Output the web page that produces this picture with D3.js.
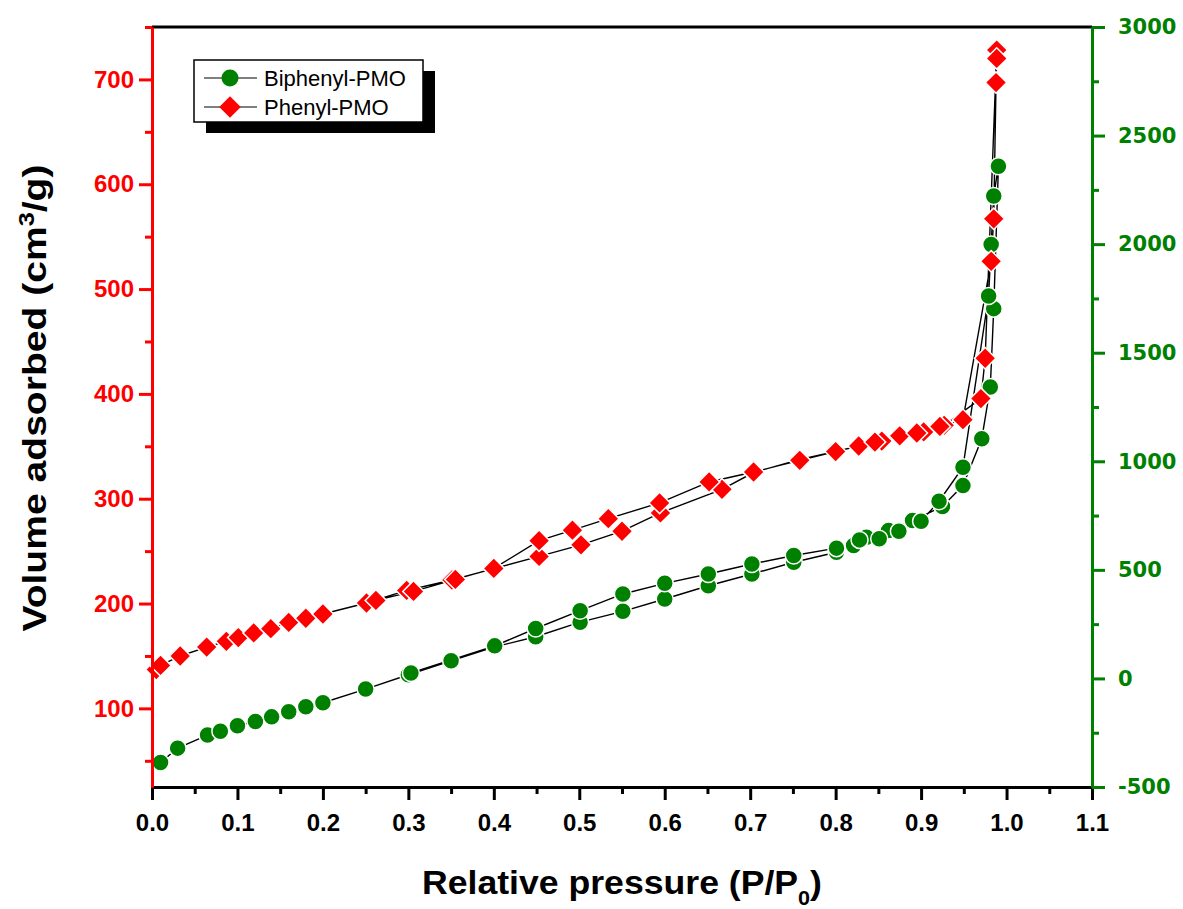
<!DOCTYPE html>
<html>
<head>
<meta charset="utf-8">
<script src="https://cdn.jsdelivr.net/npm/d3@7"></script>
<style>
  body { margin: 0; background: #fff; }
  svg { display: block; }
</style>
</head>
<body>
<div id="chart"></div>
<script>
// Phenyl-PMO (left axis, cm3/g) - adsorption then desorption branch
const phenylAdsP = [0.005, 0.01, 0.033, 0.064, 0.087, 0.101, 0.119, 0.139, 0.160, 0.180, 0.200, 0.251, 0.298, 0.351, 0.400, 0.453, 0.502, 0.550, 0.595, 0.667, 0.704, 0.757, 0.800, 0.827, 0.854, 0.875, 0.903, 0.927, 0.970, 0.975, 0.9885];
const phenylAdsV = [137, 141, 150, 158.5, 164, 167.5, 172, 176, 182, 186, 190, 200.5, 212.5, 222.5, 233.3, 245, 256, 269, 286.5, 309, 325, 337.3, 345, 350.3, 355, 360, 363.7, 370, 395.5, 434, 728];
const phenylDesP = [0.9885, 0.9877, 0.985, 0.982, 0.949, 0.922, 0.895, 0.846, 0.758, 0.704, 0.652, 0.594, 0.534, 0.492, 0.453, 0.400, 0.355, 0.306, 0.262];
const phenylDesV = [720, 697, 567, 526.5, 375.4, 369, 362.7, 354, 336.6, 325.5, 316, 296, 281, 270, 260, 233.5, 223, 211.6, 203];

// Biphenyl-PMO (right axis)
const biphenylAdsP = [0.010, 0.030, 0.065, 0.080, 0.100, 0.121, 0.140, 0.160, 0.180, 0.200, 0.250, 0.300, 0.350, 0.401, 0.449, 0.501, 0.551, 0.600, 0.651, 0.702, 0.751, 0.801, 0.821, 0.836, 0.862, 0.890, 0.925, 0.949, 0.971, 0.981, 0.985, 0.9905];
const biphenylAdsV = [-387, -321, -261, -243, -218, -198, -177, -153.5, -130.5, -112, -49, 17, 81.6, 145, 192, 259, 309, 366, 427, 481, 535, 581, 612, 650, 681, 727, 792, 888, 1104, 1342, 1703, 2359];
const biphenylDesP = [0.985, 0.982, 0.979, 0.949, 0.921, 0.900, 0.874, 0.851, 0.828, 0.801, 0.751, 0.702, 0.651, 0.600, 0.551, 0.501, 0.449, 0.401, 0.303];
const biphenylDesV = [2222, 1998, 1761, 973, 816, 724, 678, 643, 638, 600, 566, 527, 481, 438, 389, 312, 230, 150, 25];

const xTicks = [0, 0.1, 0.2, 0.3, 0.4, 0.5, 0.6, 0.7, 0.8, 0.9, 1.0, 1.1];
const leftTicks = [100, 200, 300, 400, 500, 600, 700];
const rightTicks = [-500, 0, 500, 1000, 1500, 2000, 2500, 3000];

const width = 1183, height = 909;
const plot = { left: 152, right: 1092, top: 27, bottom: 787 };
const RED = "#ff0000", GREEN = "#008000";

const svg = d3.select("#chart").append("svg")
  .attr("width", width).attr("height", height);

const x = d3.scaleLinear().domain([0, 1.1]).range([plot.left, plot.right]);
const yL = d3.scaleLinear().domain([25, 750]).range([plot.bottom, plot.top]);
const yR = d3.scaleLinear().domain([-500, 3000]).range([plot.bottom, plot.top]);

const toPts = (ps, vs) => ps.map((p, i) => ({ p, v: vs[i] }));
const phenyl = toPts(phenylAdsP, phenylAdsV).concat(toPts(phenylDesP, phenylDesV));
const biphenyl = toPts(biphenylAdsP, biphenylAdsV).concat(toPts(biphenylDesP, biphenylDesV));

// connecting lines
svg.append("path")
  .datum(biphenyl)
  .attr("fill", "none").attr("stroke", "#000").attr("stroke-width", 1.4)
  .attr("d", d3.line().x(d => x(d.p)).y(d => yR(d.v)));
svg.append("path")
  .datum(phenyl)
  .attr("fill", "none").attr("stroke", "#000").attr("stroke-width", 1.4)
  .attr("d", d3.line().x(d => x(d.p)).y(d => yL(d.v)));

// markers
svg.append("g").selectAll("circle")
  .data(biphenyl).enter().append("circle")
  .attr("cx", d => x(d.p)).attr("cy", d => yR(d.v))
  .attr("r", 8.5)
  .attr("fill", GREEN).attr("stroke", "#fff").attr("stroke-width", 1.5);

const diamond = d3.symbol().type(d3.symbolSquare).size(230);
svg.append("g").selectAll("path")
  .data(phenyl).enter().append("path")
  .attr("d", diamond)
  .attr("transform", d => `translate(${x(d.p)},${yL(d.v)}) rotate(45)`)
  .attr("fill", RED).attr("stroke", "#fff").attr("stroke-width", 1.5);

// axes
function styleAxis(g, color) {
  g.selectAll("path.domain").attr("stroke", color).attr("stroke-width", 3);
  g.selectAll(".tick line").attr("stroke", color).attr("stroke-width", 3);
}

// top frame line
svg.append("line")
  .attr("x1", plot.left).attr("x2", plot.right)
  .attr("y1", plot.top).attr("y2", plot.top)
  .attr("stroke", "#000").attr("stroke-width", 3);

// bottom axis
const xMinor = d3.range(0.05, 1.1, 0.1);
const gxMinor = svg.append("g").attr("transform", `translate(0,${plot.bottom})`)
  .call(d3.axisBottom(x).tickValues(xMinor).tickSize(7).tickSizeOuter(0).tickFormat(""));
styleAxis(gxMinor, "#000");
const gx = svg.append("g").attr("transform", `translate(0,${plot.bottom})`)
  .call(d3.axisBottom(x).tickValues(xTicks).tickSize(13).tickSizeOuter(0).tickFormat(d3.format(".1f")));
styleAxis(gx, "#000");
gx.selectAll(".tick text")
  .attr("y", 27)
  .style("font-family", "'Liberation Sans', Arial, sans-serif")
  .style("font-weight", "bold").style("font-size", "24px").attr("fill", "#000");

// left axis
const leftMinor = d3.range(50, 751, 100);
const gyLMinor = svg.append("g").attr("transform", `translate(${plot.left},0)`)
  .call(d3.axisLeft(yL).tickValues(leftMinor).tickSize(7).tickSizeOuter(0).tickFormat(""));
styleAxis(gyLMinor, RED);
const gyL = svg.append("g").attr("transform", `translate(${plot.left},0)`)
  .call(d3.axisLeft(yL).tickValues(leftTicks).tickSize(13).tickSizeOuter(0).tickFormat(d => String(d)));
styleAxis(gyL, RED);
gyL.selectAll(".tick text")
  .attr("x", -18)
  .style("font-family", "'Liberation Sans', Arial, sans-serif")
  .style("font-weight", "bold").style("font-size", "24px").attr("fill", RED);

// right axis
const rightMinor = d3.range(-250, 3000, 500);
const gyRMinor = svg.append("g").attr("transform", `translate(${plot.right},0)`)
  .call(d3.axisRight(yR).tickValues(rightMinor).tickSize(7).tickSizeOuter(0).tickFormat(""));
styleAxis(gyRMinor, GREEN);
const gyR = svg.append("g").attr("transform", `translate(${plot.right},0)`)
  .call(d3.axisRight(yR).tickValues(rightTicks).tickSize(13).tickSizeOuter(0).tickFormat(d => String(d)));
styleAxis(gyR, GREEN);
gyR.selectAll(".tick text")
  .attr("x", 26)
  .style("font-family", "'DejaVu Sans', Verdana, sans-serif")
  .style("font-weight", "bold").style("font-size", "21px").attr("fill", GREEN);

// axis titles
const yTitle = svg.append("text")
  .attr("transform", `translate(46,398) rotate(-90)`)
  .attr("text-anchor", "middle")
  .attr("textLength", 467).attr("lengthAdjust", "spacingAndGlyphs")
  .style("font-family", "'Liberation Sans', Arial, sans-serif")
  .style("font-weight", "bold").style("font-size", "34px");
yTitle.append("tspan").text("Volume adsorbed (cm");
yTitle.append("tspan").attr("baseline-shift", "super").style("font-size", "22px").text("3");
yTitle.append("tspan").text("/g)");

const xTitle = svg.append("text")
  .attr("x", 622).attr("y", 894)
  .attr("text-anchor", "middle")
  .attr("textLength", 400).attr("lengthAdjust", "spacingAndGlyphs")
  .style("font-family", "'Liberation Sans', Arial, sans-serif")
  .style("font-weight", "bold").style("font-size", "33px");
xTitle.append("tspan").text("Relative pressure (P/P");
xTitle.append("tspan").attr("baseline-shift", "sub").style("font-size", "20px").text("0");
xTitle.append("tspan").text(")");

// legend
const legend = svg.append("g");
legend.append("rect").attr("x", 206).attr("y", 71).attr("width", 229).attr("height", 62).attr("fill", "#000");
legend.append("rect").attr("x", 194).attr("y", 60).attr("width", 229).attr("height", 62)
  .attr("fill", "#fff").attr("stroke", "#000").attr("stroke-width", 1.5);

const legendItems = [
  { name: "Biphenyl-PMO", color: GREEN, shape: "circle" },
  { name: "Phenyl-PMO", color: RED, shape: "diamond" }
];
legendItems.forEach((item, i) => {
  const ly = 78 + i * 29;
  legend.append("line").attr("x1", 204).attr("x2", 257).attr("y1", ly).attr("y2", ly)
    .attr("stroke", "#000").attr("stroke-width", 1.2);
  if (item.shape === "circle") {
    legend.append("circle").attr("cx", 230).attr("cy", ly).attr("r", 8.5).attr("fill", item.color);
  } else {
    legend.append("path").attr("d", diamond)
      .attr("transform", `translate(230,${ly}) rotate(45)`).attr("fill", item.color);
  }
  legend.append("text").attr("x", 264).attr("y", ly + 8)
    .style("font-family", "'Liberation Sans', Arial, sans-serif")
    .style("font-size", "22px").attr("fill", "#000")
    .text(item.name);
});
</script>
</body>
</html>
